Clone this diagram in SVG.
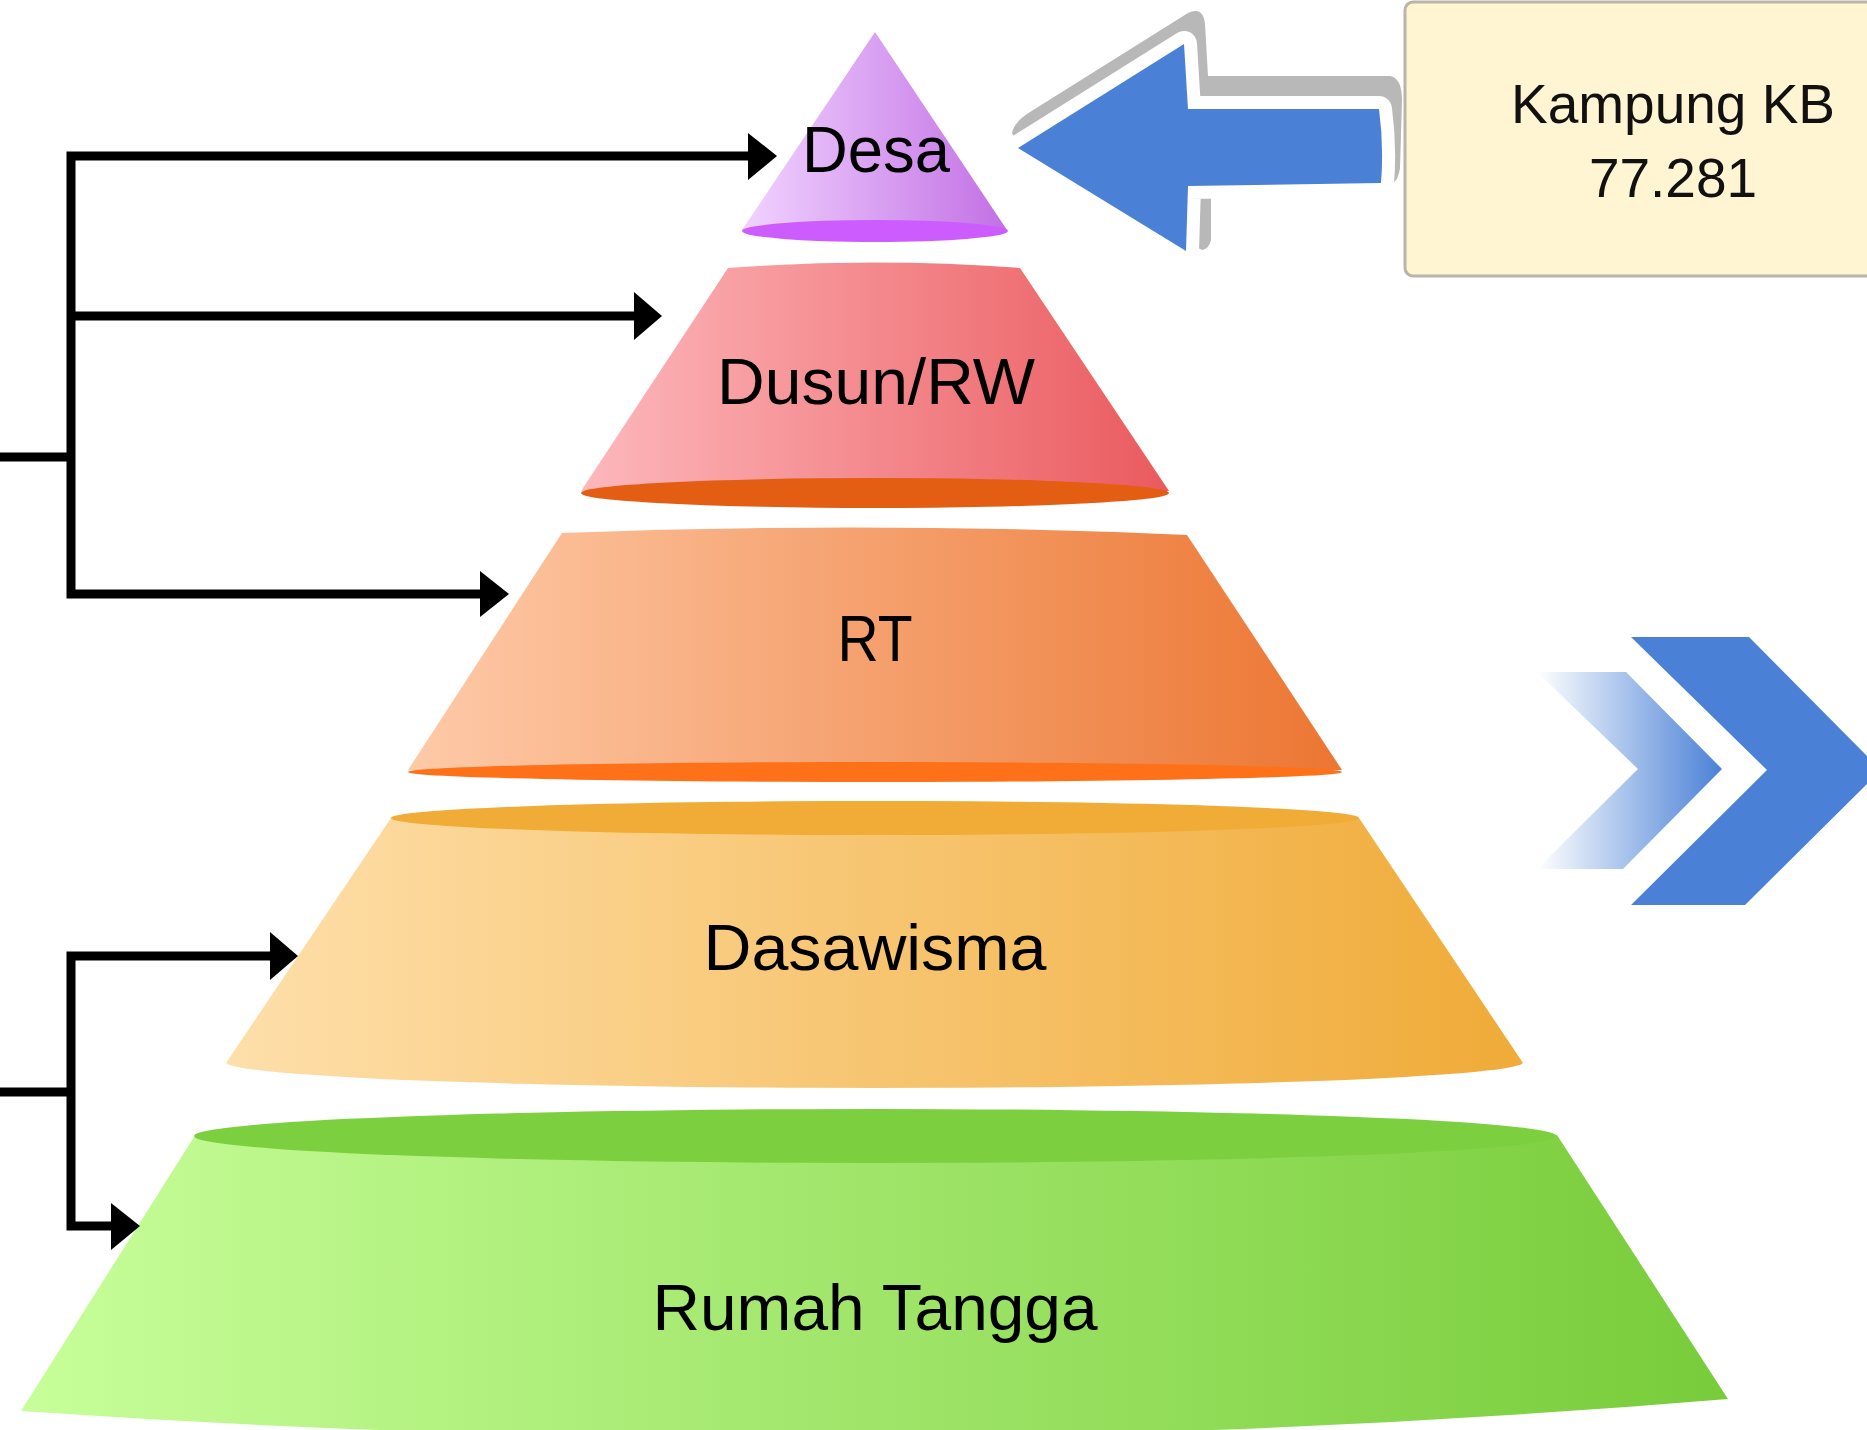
<svg xmlns="http://www.w3.org/2000/svg" width="1867" height="1430" viewBox="0 0 1867 1430">
  <style>
    .lbl { font-family: "Liberation Sans", Arial, sans-serif; font-size: 64px; text-anchor: middle; fill: #000; }
    .kb { font-family: "Liberation Sans", Arial, sans-serif; font-size: 55px; text-anchor: middle; fill: #111; }
    .conn { stroke: #000; stroke-width: 9; fill: none; stroke-linejoin: miter; }
    .ah { fill: #000; }
  </style>
  <defs>
    <linearGradient id="gDesa" x1="0" y1="0" x2="1" y2="0">
      <stop offset="0" stop-color="#F1D3FF"/>
      <stop offset="1" stop-color="#C270E4"/>
    </linearGradient>
    <linearGradient id="gDusun" x1="0" y1="0" x2="1" y2="0">
      <stop offset="0" stop-color="#FDB8BC"/>
      <stop offset="1" stop-color="#EA5A5E"/>
    </linearGradient>
    <linearGradient id="gRT" x1="0" y1="0" x2="1" y2="0">
      <stop offset="0" stop-color="#FECAA8"/>
      <stop offset="1" stop-color="#EC7632"/>
    </linearGradient>
    <linearGradient id="gDasa" x1="0" y1="0" x2="1" y2="0">
      <stop offset="0" stop-color="#FEDFAA"/>
      <stop offset="1" stop-color="#F0AB38"/>
    </linearGradient>
    <linearGradient id="gRumah" x1="0" y1="0" x2="1" y2="0">
      <stop offset="0" stop-color="#C7FE99"/>
      <stop offset="1" stop-color="#78CC3A"/>
    </linearGradient>
    <linearGradient id="gChev" gradientUnits="userSpaceOnUse" x1="1537" y1="0" x2="1722" y2="0">
      <stop offset="0" stop-color="#4A81D6" stop-opacity="0"/>
      <stop offset="1" stop-color="#4A81D6" stop-opacity="1"/>
    </linearGradient>
  </defs>

  <rect width="1867" height="1430" fill="#FFFFFF"/>

  <!-- Pyramid layers -->
  <g id="layer-rumah-tangga">
    <path d="M194 1137 L21 1411 Q875 1470 1728 1399 L1557 1135 Z" fill="url(#gRumah)"/>
    <ellipse cx="875" cy="1136" rx="681" ry="27" fill="#7CCF3E"/>
    <text class="lbl" x="875" y="1330" textLength="445" lengthAdjust="spacingAndGlyphs">Rumah Tangga</text>
  </g>

  <g id="layer-dasawisma">
    <path d="M391 818 L226 1063 A649 26 0 0 0 1523 1063 L1359 818 Z" fill="url(#gDasa)"/>
    <ellipse cx="875" cy="818" rx="484" ry="17" fill="#F0AC37"/>
    <text class="lbl" x="875" y="970" textLength="343" lengthAdjust="spacingAndGlyphs">Dasawisma</text>
  </g>

  <g id="layer-rt">
    <path d="M562 533 Q875 521 1187 535 L1342 770 L408 770 Z" fill="url(#gRT)"/>
    <ellipse cx="875" cy="772" rx="467" ry="10" fill="#FF7119"/>
    <text class="lbl" x="875" y="661" textLength="75" lengthAdjust="spacingAndGlyphs">RT</text>
  </g>

  <g id="layer-dusun">
    <path d="M728 268 Q875 257 1020 268 L1169 491 L581 491 Z" fill="url(#gDusun)"/>
    <ellipse cx="875" cy="493" rx="294" ry="15" fill="#E35D13"/>
    <text class="lbl" x="876" y="404" textLength="318" lengthAdjust="spacingAndGlyphs">Dusun/RW</text>
  </g>

  <g id="layer-desa">
    <path d="M875 32 L1007 230 L742 230 Z" fill="url(#gDesa)"/>
    <ellipse cx="875" cy="231" rx="133" ry="11" fill="#CD5CFF"/>
    <text class="lbl" x="876" y="172" textLength="148" lengthAdjust="spacingAndGlyphs">Desa</text>
  </g>

  <!-- Big blue arrow pointing to Desa -->
  <g id="arrow-kampung">
    <path d="M1012 133 Q1014 122 1030 112 L1188 13 Q1203 6 1205 24 L1208 76 L1390 76 Q1402 78 1402 100 L1400 168 Q1398 180 1394 182 L1211 182 L1211 240 Q1209 249 1202 250 L1022 150 Z" fill="#B8B8B8"/>
    <path d="M1018 148 L1184 44 L1188 109 L1379 109 Q1384 146 1381 183 L1188 186 L1186 251 Z" fill="#4A81D6" stroke="#FFFFFF" stroke-width="26" stroke-linejoin="round" paint-order="stroke"/>
  </g>

  <!-- Kampung KB box -->
  <g id="node-kampung-kb">
    <rect x="1405" y="2" width="520" height="274" rx="8" fill="#FFF5D2" stroke="#B9B6A9" stroke-width="3"/>
    <text class="kb" x="1673" y="123">Kampung KB</text>
    <text class="kb" x="1673" y="197">77.281</text>
  </g>

  <!-- Chevrons -->
  <g id="chevrons">
    <polygon points="1537,672 1626,672 1722,769 1623,869 1537,869 1638,769" fill="url(#gChev)"/>
    <polygon points="1631,637 1749,637 1881,770 1745,905 1631,905 1767,770" fill="#4A81D6"/>
  </g>

  <!-- Connectors -->
  <g id="connectors">
    <path class="conn" d="M0 457 H71"/>
    <path class="conn" d="M750 156 H71 V594 H482"/>
    <path class="conn" d="M71 316 H636"/>
    <polygon class="ah" points="748,133 777,156 748,180"/>
    <polygon class="ah" points="634,292 662,316 634,340"/>
    <polygon class="ah" points="480,571 509,594 480,617"/>

    <path class="conn" d="M0 1092 H71"/>
    <path class="conn" d="M272 956 H71 V1226 H113"/>
    <polygon class="ah" points="270,932 298,956 270,980"/>
    <polygon class="ah" points="111,1203 140,1226 111,1250"/>
  </g>
</svg>
